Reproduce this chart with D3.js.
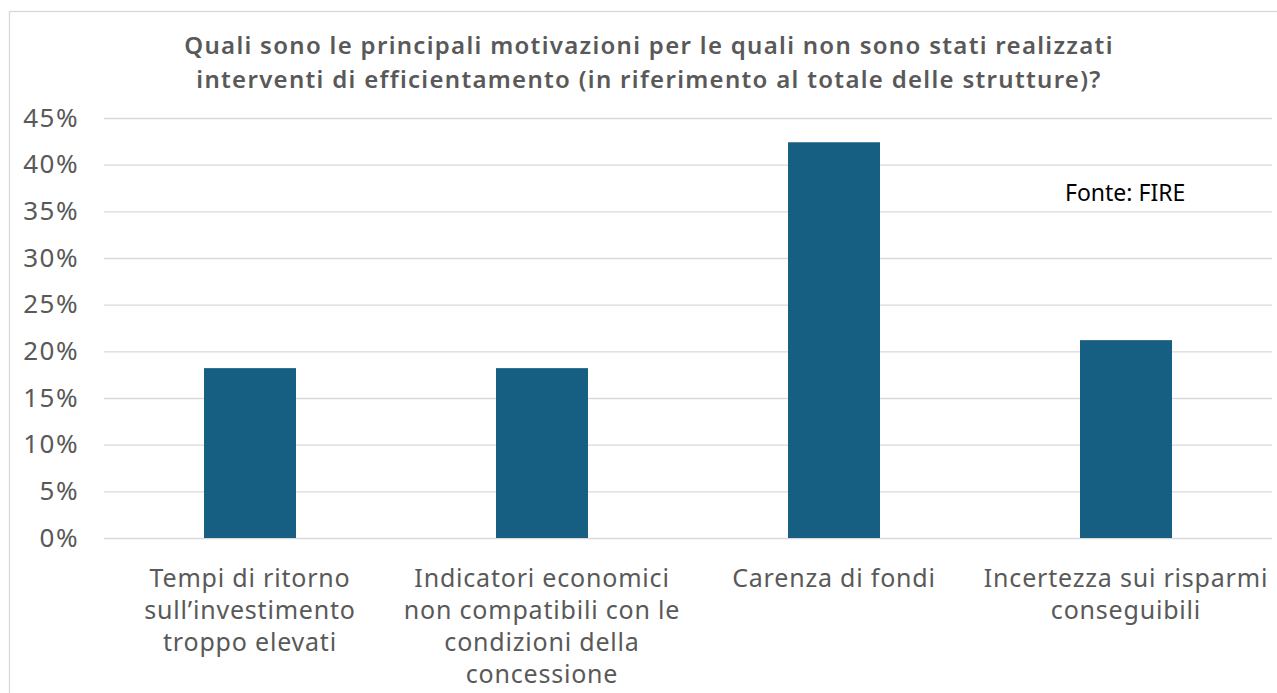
<!DOCTYPE html>
<html>
<head>
<meta charset="utf-8">
<script src="https://cdn.jsdelivr.net/npm/d3@7"></script>
<style>
  body { margin: 0; background: #fff; }
  svg { display: block; font-family: "Noto Sans", sans-serif; }
</style>
</head>
<body>
<svg id="chart"></svg>
<script>
// data
const categories = [
  ["Tempi di ritorno", "sull\u2019investimento", "troppo elevati"],
  ["Indicatori economici", "non compatibili con le", "condizioni della", "concessione"],
  ["Carenza di fondi"],
  ["Incertezza sui risparmi", "conseguibili"]
];
const values = [0.182, 0.182, 0.424, 0.212];
const yTicks = [0, 0.05, 0.10, 0.15, 0.20, 0.25, 0.30, 0.35, 0.40, 0.45];
const titleLines = [
  "Quali sono le principali motivazioni per le quali non sono stati realizzati",
  "interventi di efficientamento (in riferimento al totale delle strutture)?"
];
const sourceNote = "Fonte: FIRE";

const W = 1277, H = 693;
const margin = {top: 118, right: 5, bottom: 155, left: 104};
const textColor = "#595959";
const barColor = "#175f82";
const gridColor = "#d9d9d9";

const svg = d3.select("#chart").attr("width", W).attr("height", H);

// outer frame
svg.append("rect")
  .attr("x", 9.5).attr("y", 11.5)
  .attr("width", W + 20).attr("height", H + 20)
  .attr("fill", "none").attr("stroke", gridColor).attr("stroke-width", 1.3);

const x = d3.scaleBand()
  .domain(d3.range(categories.length))
  .range([margin.left, W - margin.right])
  .paddingInner(0.685).paddingOuter(0.3425);

const y = d3.scaleLinear()
  .domain([0, 0.45])
  .range([H - margin.bottom, margin.top]);

// gridlines + y labels
const yAxis = svg.append("g")
  .attr("transform", `translate(${margin.left},0)`)
  .call(d3.axisLeft(y).tickValues(yTicks).tickFormat(d3.format(".0%"))
    .tickSize(-(W - margin.right - margin.left)).tickPadding(25));
yAxis.select(".domain").remove();
yAxis.selectAll(".tick line").attr("stroke", gridColor).attr("stroke-width", 1.3);
yAxis.selectAll(".tick text")
  .attr("fill", textColor)
  .style("font-size", "26px")
  .style("letter-spacing", "1.5px")
  .style("font-family", "Noto Sans");

// bars
svg.append("g").selectAll("rect")
  .data(values)
  .join("rect")
    .attr("x", (d, i) => x(i))
    .attr("width", x.bandwidth())
    .attr("y", d => y(d))
    .attr("height", d => y(0) - y(d))
    .attr("fill", barColor);

// category labels
const xl = svg.append("g").selectAll("text")
  .data(categories)
  .join("text")
    .attr("text-anchor", "middle")
    .attr("fill", textColor)
    .style("font-size", "25px")
    .style("letter-spacing", "0.8px");
xl.selectAll("tspan")
  .data((d, i) => d.map(t => ({t, i})))
  .join("tspan")
    .attr("x", d => x(d.i) + x.bandwidth() / 2)
    .attr("y", (d, j) => 587 + j * 32)
    .text(d => d.t);

// title
svg.append("text")
  .attr("text-anchor", "middle")
  .attr("fill", textColor)
  .style("font-size", "24px")
  .style("font-weight", 600)
  .style("letter-spacing", "1.3px")
  .selectAll("tspan")
  .data(titleLines)
  .join("tspan")
    .attr("x", 649)
    .attr("y", (d, i) => 54 + i * 34)
    .text(d => d);

// source note
svg.append("text")
  .attr("x", 1065).attr("y", 201)
  .attr("fill", "#000")
  .style("font-size", "23px")
  .text(sourceNote);
</script>
</body>
</html>
